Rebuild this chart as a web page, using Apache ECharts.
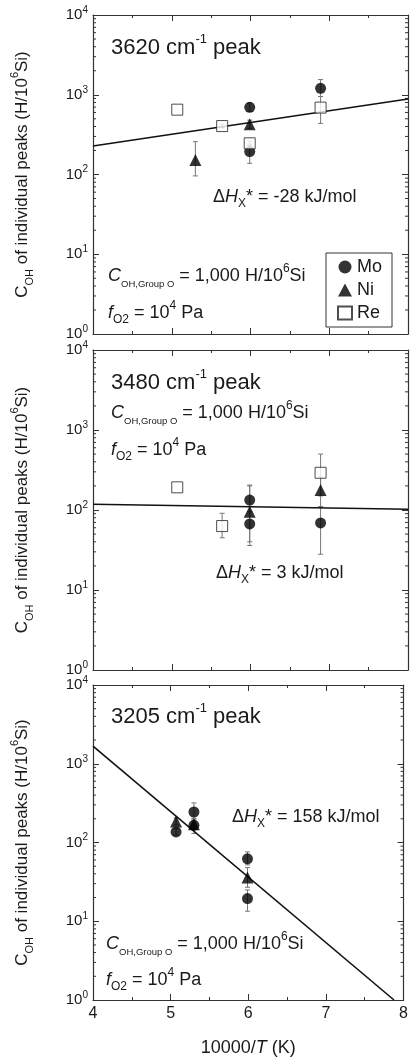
<!DOCTYPE html>
<html>
<head>
<meta charset="utf-8">
<script src="https://cdn.jsdelivr.net/npm/echarts@6/dist/echarts.min.js"></script>
<style>
html, body { margin: 0; padding: 0; background: #fff; }
#main { width: 411px; height: 1058px; }
</style>
</head>
<body>
<div id="main"></div>
<script>
// axis range / ticks
var xMin = 4, xMax = 8;
var xTicks = [4, 5, 6, 7, 8];
var yMinorTicks = [2, 3, 4, 5, 6, 7, 8, 9, 20, 30, 40, 50, 60, 70, 80, 90,
  200, 300, 400, 500, 600, 700, 800, 900, 2000, 3000, 4000, 5000, 6000, 7000, 8000, 9000];

// points are [10000/T, C_OH, error low, error high]
// 3620 cm-1 peak
var p1Mo = [[5.99, 696, 620, 790], [5.99, 194, 138, 240], [6.89, 1205, 950, 1550]];
var p1Ni = [[5.30, 152, 96, 258], [5.99, 426, 380, 480]];
var p1Re = [[5.07, 650, 650, 650], [5.64, 405, 385, 425], [5.99, 246, 230, 262], [6.89, 690, 437, 950]];
var p1Fit = [[4, 228], [8, 884]];

// 3480 cm-1 peak
var p2Mo = [[5.99, 133, 95, 205], [5.99, 67, 36, 95], [6.89, 69, 28, 110]];
var p2Ni = [[5.99, 95, 40, 200], [6.89, 178, 110, 260]];
var p2Re = [[5.07, 192, 192, 192], [5.64, 63, 45, 91], [6.89, 292, 150, 500]];
var p2Fit = [[4, 118], [8, 102]];

// 3205 cm-1 peak
var p3Mo = [[5.07, 136, 124, 150], [5.30, 244, 200, 318], [5.30, 165, 130, 200], [5.99, 62, 52, 76], [5.99, 19.4, 13.4, 25]];
var p3Ni = [[5.07, 185, 168, 205], [5.30, 170, 150, 192], [5.99, 36, 27, 48]];
var p3Re = [];
var p3Fit = [[4, 1670], [7.877, 1]];

var panelTops = [15, 350, 685];
var panelHeights = [319, 320, 318];

var FONT = 'Liberation Sans, Arial, sans-serif';
var INK = '#1a1a1a';

var chart = echarts.init(document.getElementById('main'));

var grids = [], xAxes = [], yAxes = [], series = [];

function errorBar(params, api) {
  var x = api.value(0), lo = api.value(1), hi = api.value(2);
  if (lo === hi) return null;
  var a = api.coord([x, lo]), b = api.coord([x, hi]);
  var w = 2.5;
  var st = { stroke: '#777', lineWidth: 1 };
  return {
    type: 'group',
    children: [
      { type: 'line', shape: { x1: a[0], y1: a[1], x2: b[0], y2: b[1] }, style: st },
      { type: 'line', shape: { x1: a[0] - w, y1: a[1], x2: a[0] + w, y2: a[1] }, style: st },
      { type: 'line', shape: { x1: b[0] - w, y1: b[1], x2: b[0] + w, y2: b[1] }, style: st }
    ]
  };
}

function minorTick(params, api) {
  var p = api.coord([xMin, api.value(1)]);
  var cs = params.coordSys;
  var st = { stroke: '#333', lineWidth: 1 };
  return {
    type: 'group',
    children: [
      { type: 'line', shape: { x1: cs.x, y1: p[1], x2: cs.x + 3, y2: p[1] }, style: st },
      { type: 'line', shape: { x1: cs.x + cs.width - 3, y1: p[1], x2: cs.x + cs.width, y2: p[1] }, style: st }
    ]
  };
}

function addPanel(i, mo, ni, re, fit) {
  grids.push({ left: 93, top: panelTops[i], width: 315, height: panelHeights[i] });
  var last = i === 2;
  var axisLine = { lineStyle: { color: '#333', width: 1.2 } };
  xAxes.push({
    type: 'value', gridIndex: i, min: xMin, max: xMax, interval: 1,
    axisLine: axisLine, splitLine: { show: false },
    axisTick: { inside: true, length: 6, lineStyle: { color: '#333' } },
    minorTick: { show: true, splitNumber: 2, length: 3, lineStyle: { color: '#333' } },
    axisLabel: {
      show: last, color: INK, fontSize: 16, fontFamily: FONT, margin: 6,
      formatter: function (v) { return xTicks.indexOf(v) >= 0 ? String(v) : ''; }
    },
    name: last ? '{n|10000/}{i|T}{n| (K)}' : '',
    nameLocation: 'middle', nameGap: 39,
    nameTextStyle: {
      rich: {
        n: { fontSize: 18, fontFamily: FONT, color: INK },
        i: { fontSize: 18, fontFamily: FONT, color: INK, fontStyle: 'italic' }
      }
    }
  });
  xAxes.push({
    type: 'value', gridIndex: i, position: 'top', min: xMin, max: xMax, interval: 1,
    axisLine: axisLine, splitLine: { show: false }, axisLabel: { show: false },
    axisTick: { inside: true, length: 6, lineStyle: { color: '#333' } },
    minorTick: { show: true, splitNumber: 2, length: 3, lineStyle: { color: '#333' } }
  });
  yAxes.push({
    type: 'log', logBase: 10, gridIndex: i, min: 1, max: 10000,
    axisLine: axisLine, splitLine: { show: false },
    axisTick: { inside: true, length: 6, lineStyle: { color: '#333' } },
    axisLabel: {
      color: INK, fontFamily: FONT, margin: 5,
      formatter: function (v) { return '{b|10}{p|' + Math.round(Math.log10(v)) + '}'; },
      rich: {
        b: { fontSize: 15, fontFamily: FONT, color: INK, lineHeight: 20 },
        p: { fontSize: 10, fontFamily: FONT, color: INK, verticalAlign: 'top', lineHeight: 10 }
      }
    },
    name: '{b|C}{s|OH}{b| of individual peaks (H/10}{p|6}{b|Si)}',
    nameLocation: 'middle', nameRotate: 90, nameGap: 58,
    nameTextStyle: {
      rich: {
        b: { fontSize: 17, fontFamily: FONT, color: INK, lineHeight: 26 },
        s: { fontSize: 11, fontFamily: FONT, color: INK, verticalAlign: 'bottom', lineHeight: 12 },
        p: { fontSize: 11, fontFamily: FONT, color: INK, verticalAlign: 'top', lineHeight: 12 }
      }
    }
  });
  yAxes.push({
    type: 'log', logBase: 10, gridIndex: i, position: 'right', min: 1, max: 10000,
    axisLine: axisLine, splitLine: { show: false }, axisLabel: { show: false },
    axisTick: { inside: true, length: 6, lineStyle: { color: '#333' } }
  });

  var xi = i * 2, yi = i * 2;
  series.push({
    type: 'custom', xAxisIndex: xi, yAxisIndex: yi, renderItem: minorTick,
    data: yMinorTicks.map(function (v) { return [xMin, v]; }), silent: true, z: 1
  });
  var all = mo.concat(ni, re);
  series.push({
    type: 'custom', xAxisIndex: xi, yAxisIndex: yi, renderItem: errorBar,
    encode: { x: 0, y: [1, 2] },
    data: all.map(function (p) { return [p[0], p[2], p[3]]; }), silent: true, z: 2
  });
  series.push({
    type: 'line', xAxisIndex: xi, yAxisIndex: yi, data: fit, showSymbol: false,
    lineStyle: { color: '#111', width: 1.6 }, silent: true, z: 3
  });
  series.push({
    name: 'Mo', type: 'scatter', xAxisIndex: xi, yAxisIndex: yi, symbol: 'circle', symbolSize: 11,
    itemStyle: { color: '#000' }, data: mo.map(function (p) { return [p[0], p[1]]; }), z: 4
  });
  series.push({
    name: 'Ni', type: 'scatter', xAxisIndex: xi, yAxisIndex: yi, symbol: 'triangle', symbolSize: 12,
    itemStyle: { color: '#000' }, data: ni.map(function (p) { return [p[0], p[1]]; }), z: 4
  });
  series.push({
    name: 'Re', type: 'scatter', xAxisIndex: xi, yAxisIndex: yi, symbol: 'rect', symbolSize: 11,
    itemStyle: { color: '#fff', borderColor: '#222', borderWidth: 1 },
    data: re.map(function (p) { return [p[0], p[1]]; }), z: 5
  });
}

addPanel(0, p1Mo, p1Ni, p1Re, p1Fit);
addPanel(1, p2Mo, p2Ni, p2Re, p2Fit);
addPanel(2, p3Mo, p3Ni, p3Re, p3Fit);

var richText = {
  b: { fontSize: 18, fontFamily: FONT, fill: INK, lineHeight: 26 },
  i: { fontSize: 18, fontFamily: FONT, fill: INK, fontStyle: 'italic', lineHeight: 26 },
  big: { fontSize: 22, fontFamily: FONT, fill: INK, lineHeight: 30 },
  bp: { fontSize: 13, fontFamily: FONT, fill: INK, verticalAlign: 'top', lineHeight: 13 },
  p: { fontSize: 12, fontFamily: FONT, fill: INK, verticalAlign: 'top', lineHeight: 12 },
  s: { fontSize: 12, fontFamily: FONT, fill: INK, verticalAlign: 'bottom', lineHeight: 12 },
  ss: { fontSize: 9.5, fontFamily: FONT, fill: INK, verticalAlign: 'bottom', lineHeight: 10 }
};

function label(x, y, text) {
  return {
    type: 'text', x: x, y: y, z: 10,
    style: { text: text, rich: richText, verticalAlign: 'middle', fill: INK }
  };
}
var peakText = function (n) { return '{big|' + n + ' cm}{bp|-1}{big| peak}'; };
var cText = '{i|C}{ss|OH,Group O}{b| = 1,000 H/10}{p|6}{b|Si}';
var fText = '{i|f}{s|O2}{b| = 10}{p|4}{b| Pa}';
var hText = function (v) { return '{b|\u0394}{i|H}{s|X}{b|* = ' + v + ' kJ/mol}'; };

var graphics = [
  label(111, 48, peakText(3620)),
  label(213, 197, hText('-28')),
  label(108, 276, cText),
  label(108, 313, fText),
  label(111, 383, peakText(3480)),
  label(111, 413, cText),
  label(111, 450, fText),
  label(216, 573, hText('3')),
  label(111, 717, peakText(3205)),
  label(232, 817, hText('158')),
  label(106, 944, cText),
  label(106, 980, fText)
];

chart.setOption({
  animation: false,
  backgroundColor: '#fff',
  grid: grids,
  xAxis: xAxes,
  yAxis: yAxes,
  legend: {
    left: 326, top: 253, orient: 'vertical', selectedMode: false,
    data: ['Mo', 'Ni', 'Re'],
    borderColor: '#333', borderWidth: 1, padding: [5, 10, 5, 11], itemGap: 5,
    itemWidth: 14, itemHeight: 13,
    textStyle: { fontSize: 18, fontFamily: FONT, color: INK }
  },
  graphic: graphics,
  series: series
});
</script>
</body>
</html>
